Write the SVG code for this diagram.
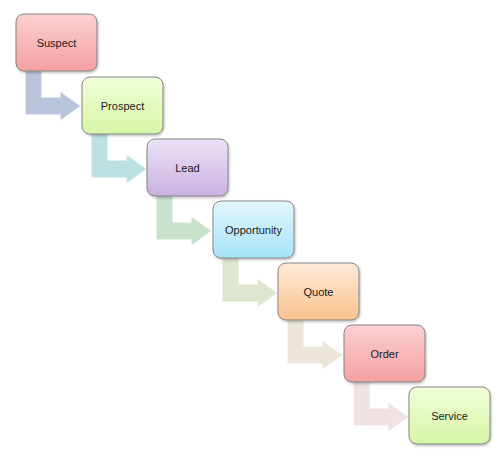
<svg xmlns="http://www.w3.org/2000/svg" width="501" height="459" viewBox="0 0 501 459">
  <defs>
    <style>
      .box { stroke: #858585; stroke-width: 1; filter: url(#sh); }
      .lbl { font-family: "Liberation Sans", Arial, sans-serif; font-size: 11px; fill: #1a1a1a; text-anchor: middle; dominant-baseline: central; }
      .arr { stroke: #ffffff; stroke-opacity: 0.7; stroke-width: 1.5; stroke-linejoin: miter; }
    </style>
    <filter id="sh" x="-10%" y="-10%" width="130%" height="130%">
      <feDropShadow dx="1" dy="1.5" stdDeviation="1.2" flood-color="#000" flood-opacity="0.25"/>
    </filter>
    <linearGradient id="gRed" x1="0" y1="0" x2="0" y2="1">
      <stop offset="0" stop-color="#fcd0d0"/>
      <stop offset="1" stop-color="#f4a0a0"/>
    </linearGradient>
    <linearGradient id="gGreen" x1="0" y1="0" x2="0" y2="1">
      <stop offset="0" stop-color="#f1ffd9"/>
      <stop offset="1" stop-color="#d6f5a6"/>
    </linearGradient>
    <linearGradient id="gPurple" x1="0" y1="0" x2="0" y2="1">
      <stop offset="0" stop-color="#ece3f6"/>
      <stop offset="1" stop-color="#c9b0e2"/>
    </linearGradient>
    <linearGradient id="gBlue" x1="0" y1="0" x2="0" y2="1">
      <stop offset="0" stop-color="#e2f7fd"/>
      <stop offset="1" stop-color="#a6e3f7"/>
    </linearGradient>
    <linearGradient id="gOrange" x1="0" y1="0" x2="0" y2="1">
      <stop offset="0" stop-color="#feead8"/>
      <stop offset="1" stop-color="#fbc28e"/>
    </linearGradient>
    <path id="bend" d="M 9,50 L 26,50 L 26,83 L 44,83 L 44,77 L 65,92 L 44,107 L 44,101 L 9,101 Z"/>
  </defs>
  <rect width="501" height="459" fill="#ffffff"/>
  <g id="connectors">
    <use href="#bend" class="arr" transform="translate(16,14)" fill="#b9c5dc"/>
    <use href="#bend" class="arr" transform="translate(82,77)" fill="#bde0e0"/>
    <use href="#bend" class="arr" transform="translate(147,139)" fill="#c8e2cb"/>
    <use href="#bend" class="arr" transform="translate(213,201)" fill="#dee6d2"/>
    <use href="#bend" class="arr" transform="translate(278,263)" fill="#ece6da"/>
    <use href="#bend" class="arr" transform="translate(344,325)" fill="#f0e2e2"/>
  </g>
  <g id="suspect">
    <rect class="box" x="16" y="14" width="81" height="57" rx="8" fill="url(#gRed)"/>
    <text class="lbl" x="56.5" y="42.5">Suspect</text>
  </g>
  <g id="prospect">
    <rect class="box" x="82" y="77" width="81" height="57" rx="8" fill="url(#gGreen)"/>
    <text class="lbl" x="122.5" y="105.5">Prospect</text>
  </g>
  <g id="lead">
    <rect class="box" x="147" y="139" width="81" height="57" rx="8" fill="url(#gPurple)"/>
    <text class="lbl" x="187.5" y="167.5">Lead</text>
  </g>
  <g id="opportunity">
    <rect class="box" x="213" y="201" width="81" height="57" rx="8" fill="url(#gBlue)"/>
    <text class="lbl" x="253.5" y="229.5">Opportunity</text>
  </g>
  <g id="quote">
    <rect class="box" x="278" y="263" width="81" height="57" rx="8" fill="url(#gOrange)"/>
    <text class="lbl" x="318.5" y="291.5">Quote</text>
  </g>
  <g id="order">
    <rect class="box" x="344" y="325" width="81" height="57" rx="8" fill="url(#gRed)"/>
    <text class="lbl" x="384.5" y="353.5">Order</text>
  </g>
  <g id="service">
    <rect class="box" x="409" y="387" width="81" height="57" rx="8" fill="url(#gGreen)"/>
    <text class="lbl" x="449.5" y="415.5">Service</text>
  </g>
</svg>
